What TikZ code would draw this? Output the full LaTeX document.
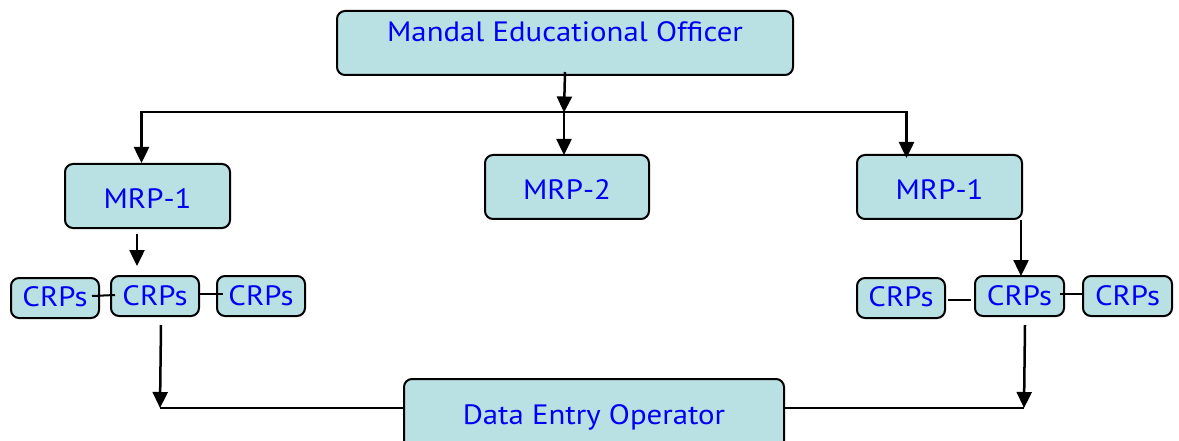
\documentclass[tikz,border=0pt]{standalone}
\usepackage{fontspec}
\setmainfont{PT Sans}[FakeStretch=1.1]
\usetikzlibrary{arrows.meta,calc}
\definecolor{boxfill}{RGB}{185,224,226}
\definecolor{txtblue}{RGB}{0,0,245}
\begin{document}
\begin{tikzpicture}[x=1pt,y=-1pt,
  box/.style={draw=black, line width=2pt, fill=boxfill, rounded corners=8pt,
    inner sep=0pt, text=txtblue, font=\fontsize{28}{34}\selectfont, anchor=north west},
  link/.style={draw=black, line width=2pt},
  arr/.style={draw=black, line width=2.5pt, -{Triangle[length=16pt,width=15pt]}}]
\useasboundingbox (0,0) rectangle (1179,441);
\fill[white] (0,0) rectangle (1179,441);
% nodes
\node[box, minimum width=456pt, text height=31pt, text depth=33pt] (meo) at (336,10) {Mandal Educational Officer};
\node[box, minimum width=165pt, text height=44pt, text depth=20pt] (mrpL) at (64,163) {MRP-1};
\node[box, minimum width=164pt, text height=45pt, text depth=19pt] (mrpM) at (484,154) {MRP-2};
\node[box, minimum width=165pt, text height=45pt, text depth=19pt] (mrpR) at (856,154) {MRP-1};
\node[box, minimum width=88pt, text height=28pt, text depth=12pt] (ll) at (10,277) {CRPs};
\node[box, minimum width=88pt, text height=29pt, text depth=11pt] (lm) at (110,275) {CRPs};
\node[box, minimum width=88pt, text height=29pt, text depth=11pt] (lr) at (216,275) {CRPs};
\node[box, minimum width=88pt, text height=28pt, text depth=12pt] (rl) at (856,277) {CRPs};
\node[box, minimum width=89pt, text height=29pt, text depth=11pt] (rm) at (974,275) {CRPs};
\node[box, minimum width=89pt, text height=29pt, text depth=11pt] (rr) at (1082,275) {CRPs};
\node[box, minimum width=380pt, text height=45pt, text depth=40pt] (deo) at (403,378) {Data Entry Operator};
% coordinates
\coordinate (busL) at (141.5,112.5);
\coordinate (busM) at (564,112.5);
\coordinate (busR) at (906.5,112.5);
\coordinate (botL) at (160,408);
\coordinate (botR) at (1024,408);
% top bus
\draw[link] (busL) -- (busR);
\draw[arr] ([yshift=4pt]meo.south) -- (busM);
\draw[arr] (busM) -- ([yshift=-1pt]busM |- mrpM.north);
\draw[arr] ([yshift=1pt]busL) -- (busL |- mrpL.north);
\draw[arr] ([yshift=1pt]busR) -- ([yshift=-4pt]busR |- mrpR.north);
% MRP to CRPs
\draw[arr] ([xshift=-10.5pt,yshift=-5pt]mrpL.south) -- ([xshift=-18pt,yshift=9pt]lm.north);
\draw[arr] ([xshift=1.5pt]rm.north |- mrpR.south) -- ([xshift=1.5pt,yshift=-1pt]rm.north);
% CRPs links
\draw[link] ([xshift=-8pt,yshift=2pt]ll.east) -- ([xshift=5pt,yshift=1pt]lm.west);
\draw[link] ([yshift=2pt]lm.east) -- ([xshift=7pt,yshift=2pt]lr.west);
\draw[link] ([xshift=2pt,yshift=-2pt]rl.east) -- ([xshift=-3pt,yshift=-4pt]rm.west);
\draw[link] ([xshift=-5pt,yshift=2pt]rm.east) -- ([xshift=1pt,yshift=2pt]rr.west);
% CRPs to DEO
\draw[arr] ([xshift=6pt,yshift=-8pt]lm.south) -- (botL);
\draw[arr] ([xshift=5.5pt,yshift=-8pt]rm.south) -- (botR);
\draw[link] (botL) -- (botL -| deo.west);
\draw[link] (deo.east |- botR) -- (botR);
\end{tikzpicture}
\end{document}
